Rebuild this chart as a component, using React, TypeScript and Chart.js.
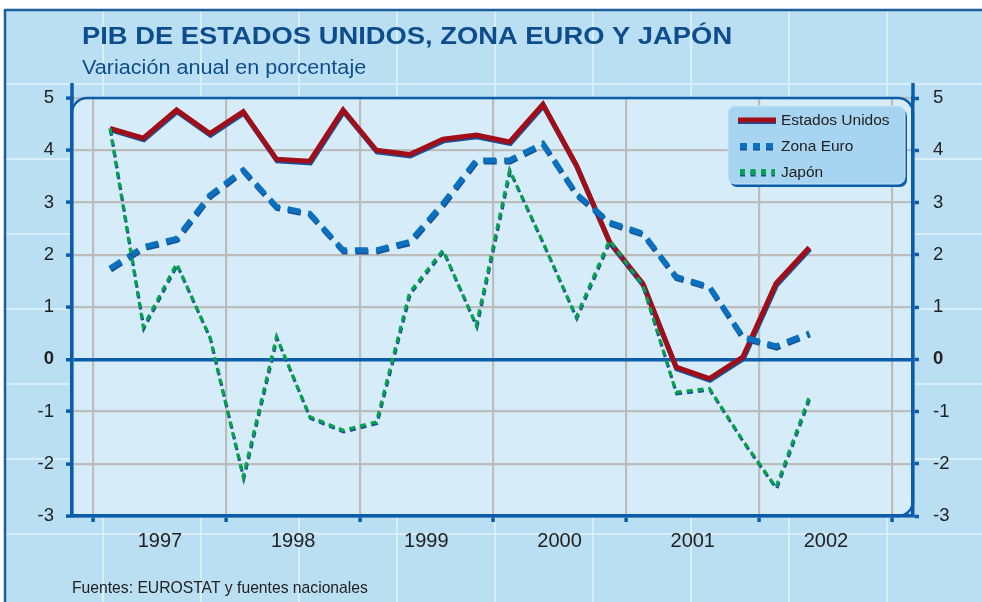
import { useEffect, useRef } from 'react';
import { Chart, registerables } from 'chart.js';

Chart.register(...registerables);

// ---------- data ----------
const YEAR_LABELS = ['1997', '1998', '1999', '2000', '2001', '2002'];
// quarterly points, 1997 Q1 .. 2002 Q2 (quarter index on the x scale)
const ESTADOS_UNIDOS = [4.42, 4.23, 4.77, 4.32, 4.74, 3.83, 3.79, 4.77, 4.0, 3.92, 4.21, 4.29, 4.16, 4.88, 3.72, 2.25, 1.45, -0.15, -0.37, 0.04, 1.45, 2.14];
const ZONA_EURO = [1.74, 2.15, 2.31, 3.14, 3.62, 2.92, 2.79, 2.09, 2.09, 2.25, 2.98, 3.81, 3.81, 4.13, 3.17, 2.62, 2.41, 1.58, 1.39, 0.43, 0.25, 0.5];
const JAPON = [4.42, 0.62, 1.83, 0.42, -2.25, 0.43, -1.1, -1.36, -1.2, 1.28, 2.09, 0.65, 3.62, 2.24, 0.81, 2.28, 1.42, -0.63, -0.56, -1.55, -2.45, -0.72];
const Y_TICKS = [-3, -2, -1, 0, 1, 2, 3, 4, 5];
const YEAR_BOUNDARIES = [-0.5, 3.5, 7.5, 11.5, 15.5, 19.5, 23.5];
const YEAR_CENTERS = [1.5, 5.5, 9.5, 13.5, 17.5, 21.5];

const TITLE = 'PIB DE ESTADOS UNIDOS, ZONA EURO Y JAPÓN';
const SUBTITLE = 'Variación anual en porcentaje';
const SOURCE = 'Fuentes: EUROSTAT y fuentes nacionales';
const SERIES_NAMES = ['Estados Unidos', 'Zona Euro', 'Japón'];

// ---------- styles ----------
const FONT = '"Liberation Sans", Arial, Helvetica, sans-serif';
const AXIS_BLUE = '#0B5DAA';
const SHADOW_BLUE = '#17509A';
const GRID_GRAY = '#BCBCBC';
const OUTER_BG = '#BADFF3';
const PANEL_BG = '#D6EDF9';
const RED = '#A10E18';
const EURO_BLUE = '#0B71BE';
const GREEN = '#06A24E';
const TEXT = '#222222';
const TITLE_BLUE = '#0E4D8D';

const X_MIN = -38 / 33.3;
const X_MAX = 803 / 33.3;

function panelPath(ctx: CanvasRenderingContext2D, l: number, t: number, r: number, b: number, rad: number) {
  ctx.beginPath();
  ctx.moveTo(l, b);
  ctx.lineTo(l, t + rad);
  ctx.arcTo(l, t, l + rad, t, rad);
  ctx.lineTo(r - rad, t);
  ctx.arcTo(r, t, r, t + rad, rad);
  ctx.lineTo(r, b - rad);
  ctx.arcTo(r, b, r - rad, b, rad);
  ctx.closePath();
}

function roundRect(ctx: CanvasRenderingContext2D, x: number, y: number, w: number, h: number, r: number) {
  ctx.beginPath();
  ctx.moveTo(x + r, y);
  ctx.lineTo(x + w - r, y);
  ctx.arcTo(x + w, y, x + w, y + r, r);
  ctx.lineTo(x + w, y + h - r);
  ctx.arcTo(x + w, y + h, x + w - r, y + h, r);
  ctx.lineTo(x + r, y + h);
  ctx.arcTo(x, y + h, x, y + h - r, r);
  ctx.lineTo(x, y + r);
  ctx.arcTo(x, y, x + r, y, r);
  ctx.closePath();
}

function drawScaledText(ctx: CanvasRenderingContext2D, text: string, x: number, y: number, font: string, color: string, sx: number) {
  ctx.save();
  ctx.translate(x, y);
  ctx.scale(sx, 1);
  ctx.font = font;
  ctx.fillStyle = color;
  ctx.textBaseline = 'alphabetic';
  ctx.textAlign = 'left';
  ctx.fillText(text, 0, 0);
  ctx.restore();
}

const decorPlugin = {
  id: 'decor',
  beforeDraw(chart: any) {
    const ctx: CanvasRenderingContext2D = chart.ctx;
    const W = chart.width;
    const H = chart.height;
    const a = chart.chartArea;
    ctx.save();
    ctx.fillStyle = '#FFFFFF';
    ctx.fillRect(0, 0, W, H);
    ctx.fillStyle = OUTER_BG;
    ctx.fillRect(5, 10, W - 5, H - 10);
    // faint background pattern
    ctx.strokeStyle = '#D8EEFA';
    ctx.lineWidth = 2;
    for (let x = 103; x < W; x += 98) {
      ctx.beginPath();
      ctx.moveTo(x, 10);
      ctx.lineTo(x, H);
      ctx.stroke();
    }
    for (let y = 84; y < H; y += 75) {
      ctx.beginPath();
      ctx.moveTo(5, y);
      ctx.lineTo(W, y);
      ctx.stroke();
    }
    // frame
    ctx.strokeStyle = '#1D5E9E';
    ctx.lineWidth = 2.5;
    ctx.beginPath();
    ctx.moveTo(5, H + 2);
    ctx.lineTo(5, 10);
    ctx.lineTo(W + 2, 10);
    ctx.stroke();
    // plot panel
    panelPath(ctx, a.left, a.top, a.right, a.bottom, 15);
    ctx.fillStyle = PANEL_BG;
    ctx.fill();
    // texts
    drawScaledText(ctx, TITLE, 82, 44, `bold 24px ${FONT}`, TITLE_BLUE, 1.14);
    drawScaledText(ctx, SUBTITLE, 82, 74, `20px ${FONT}`, TITLE_BLUE, 1.08);
    drawScaledText(ctx, SOURCE, 72, 593, `15.7px ${FONT}`, TEXT, 1);
    ctx.restore();
  },
  beforeDatasetsDraw(chart: any) {
    const ctx: CanvasRenderingContext2D = chart.ctx;
    const a = chart.chartArea;
    ctx.save();
    panelPath(ctx, a.left, a.top, a.right, a.bottom, 15);
    ctx.strokeStyle = AXIS_BLUE;
    ctx.lineWidth = 2.5;
    ctx.stroke();
    // axis extensions above the top
    ctx.lineWidth = 3.5;
    ctx.beginPath();
    ctx.moveTo(a.left, 83);
    ctx.lineTo(a.left, a.top + 4);
    ctx.moveTo(a.right, 83);
    ctx.lineTo(a.right, a.top + 4);
    ctx.stroke();
    ctx.restore();
  },
  beforeDatasetDraw(chart: any) {
    const ctx: CanvasRenderingContext2D = chart.ctx;
    ctx.save();
    ctx.shadowColor = SHADOW_BLUE;
    ctx.shadowOffsetX = 0.6;
    ctx.shadowOffsetY = 1.6;
    ctx.shadowBlur = 0;
  },
  afterDatasetDraw(chart: any) {
    chart.ctx.restore();
  },
  afterDatasetsDraw(chart: any) {
    const ctx: CanvasRenderingContext2D = chart.ctx;
    ctx.save();
    // legend box
    const bx = 728, by = 106, bw = 177, bh = 78;
    roundRect(ctx, bx + 2, by + 3, bw, bh, 7);
    ctx.fillStyle = AXIS_BLUE;
    ctx.fill();
    roundRect(ctx, bx, by, bw, bh, 7);
    ctx.fillStyle = '#A7D4F0';
    ctx.fill();
    ctx.strokeStyle = '#C6E6F8';
    ctx.lineWidth = 1;
    ctx.stroke();
    const rows = [120, 146, 172];
    const ds = chart.data.datasets;
    ctx.shadowColor = SHADOW_BLUE;
    ctx.shadowOffsetX = 0;
    ctx.shadowOffsetY = 1.6;
    ctx.shadowBlur = 0;
    // Estados Unidos
    ctx.strokeStyle = ds[0].borderColor;
    ctx.lineWidth = 5;
    ctx.setLineDash([]);
    ctx.beginPath();
    ctx.moveTo(738, rows[0]);
    ctx.lineTo(776, rows[0]);
    ctx.stroke();
    // Zona Euro
    ctx.strokeStyle = ds[1].borderColor;
    ctx.lineWidth = 6;
    ctx.setLineDash([7, 6]);
    ctx.beginPath();
    ctx.moveTo(740, rows[1]);
    ctx.lineTo(774, rows[1]);
    ctx.stroke();
    // Japón
    ctx.strokeStyle = ds[2].borderColor;
    ctx.lineWidth = 6;
    ctx.setLineDash([5, 5.5]);
    ctx.beginPath();
    ctx.moveTo(740, rows[2]);
    ctx.lineTo(775, rows[2]);
    ctx.stroke();
    ctx.setLineDash([]);
    ctx.shadowColor = 'transparent';
    ctx.font = `15.5px ${FONT}`;
    ctx.fillStyle = TEXT;
    ctx.textBaseline = 'middle';
    ctx.textAlign = 'left';
    SERIES_NAMES.forEach((name, i) => ctx.fillText(name, 781, rows[i] + 1));
    ctx.restore();
  },
};

const yTickFont = (c: any) => ({ family: FONT, size: 18.5, weight: c.tick && c.tick.value === 0 ? 'bold' : 'normal' });

export default function App() {
  const ref = useRef<HTMLCanvasElement | null>(null);

  useEffect(() => {
    const prevMargin = document.body.style.margin;
    document.body.style.margin = '0';
    const canvas = ref.current;
    if (!canvas) return;
    const chart = new Chart(canvas, {
      type: 'line',
      data: {
        datasets: [
          {
            label: SERIES_NAMES[0],
            data: ESTADOS_UNIDOS.map((y, i) => ({ x: i, y })),
            borderColor: RED,
            borderWidth: 5,
            pointRadius: 0,
            tension: 0,
            order: 3,
            xAxisID: 'x',
            yAxisID: 'y',
            borderJoinStyle: 'miter',
          },
          {
            label: SERIES_NAMES[1],
            data: ZONA_EURO.map((y, i) => ({ x: i, y })),
            borderColor: EURO_BLUE,
            borderWidth: 5.5,
            borderDash: [13, 8],
            pointRadius: 0,
            tension: 0,
            order: 2,
            xAxisID: 'x',
            yAxisID: 'y',
          },
          {
            label: SERIES_NAMES[2],
            data: JAPON.map((y, i) => ({ x: i, y })),
            borderColor: GREEN,
            borderWidth: 3.2,
            borderDash: [6, 5],
            pointRadius: 0,
            tension: 0,
            order: 1,
            xAxisID: 'x',
            yAxisID: 'y',
          },
        ],
      } as any,
      options: {
        animation: false,
        responsive: false,
        devicePixelRatio: 1,
        layout: { padding: { top: 98, left: 0, right: 0, bottom: 0 } },
        plugins: { legend: { display: false }, tooltip: { enabled: false }, title: { display: false } },
        scales: {
          x: {
            type: 'linear',
            position: 'bottom',
            weight: 0,
            min: X_MIN,
            max: X_MAX,
            afterBuildTicks: (s: any) => {
              s.ticks = YEAR_BOUNDARIES.map((v) => ({ value: v }));
            },
            afterFit: (s: any) => {
              s.height = 8;
            },
            grid: { color: GRID_GRAY, lineWidth: 2.2, tickColor: AXIS_BLUE, tickWidth: 3.5, tickLength: 6 },
            border: { color: AXIS_BLUE, width: 3.5 },
            ticks: { display: false },
          },
          x2: {
            type: 'linear',
            position: 'bottom',
            weight: 1,
            min: X_MIN,
            max: X_MAX,
            afterBuildTicks: (s: any) => {
              s.ticks = YEAR_CENTERS.map((v) => ({ value: v }));
            },
            afterFit: (s: any) => {
              s.height = 78;
            },
            grid: { display: false, drawTicks: false },
            border: { display: false },
            ticks: {
              callback: (_v: any, i: number) => YEAR_LABELS[i],
              font: { family: FONT, size: 20 },
              color: TEXT,
              padding: 5,
              maxRotation: 0,
              autoSkip: false,
            },
          },
          y: {
            type: 'linear',
            position: 'left',
            min: -3,
            max: 5,
            afterBuildTicks: (s: any) => {
              s.ticks = Y_TICKS.map((v) => ({ value: v }));
            },
            afterFit: (s: any) => {
              s.width = 72;
            },
            grid: {
              color: (c: any) => (c.tick && c.tick.value === 0 ? AXIS_BLUE : GRID_GRAY),
              lineWidth: (c: any) => (c.tick && c.tick.value === 0 ? 3.5 : 2.2),
              tickColor: AXIS_BLUE,
              tickWidth: 3.5,
              tickLength: 6,
            },
            border: { color: AXIS_BLUE, width: 3.5 },
            ticks: { font: yTickFont as any, color: TEXT, padding: 12 },
          },
          y2: {
            type: 'linear',
            position: 'right',
            min: -3,
            max: 5,
            afterBuildTicks: (s: any) => {
              s.ticks = Y_TICKS.map((v) => ({ value: v }));
            },
            afterFit: (s: any) => {
              s.width = 69;
            },
            grid: { drawOnChartArea: false, color: AXIS_BLUE, tickColor: AXIS_BLUE, tickWidth: 3.5, tickLength: 6 },
            border: { color: AXIS_BLUE, width: 3.5 },
            ticks: { font: yTickFont as any, color: TEXT, padding: 14 },
          },
        },
      } as any,
      plugins: [decorPlugin as any],
    });
    return () => {
      chart.destroy();
      document.body.style.margin = prevMargin;
    };
  }, []);

  return (
    <div style={{ width: 982, height: 602 }}>
      <canvas ref={ref} width={982} height={602} style={{ display: 'block', width: 982, height: 602 }} />
    </div>
  );
}
